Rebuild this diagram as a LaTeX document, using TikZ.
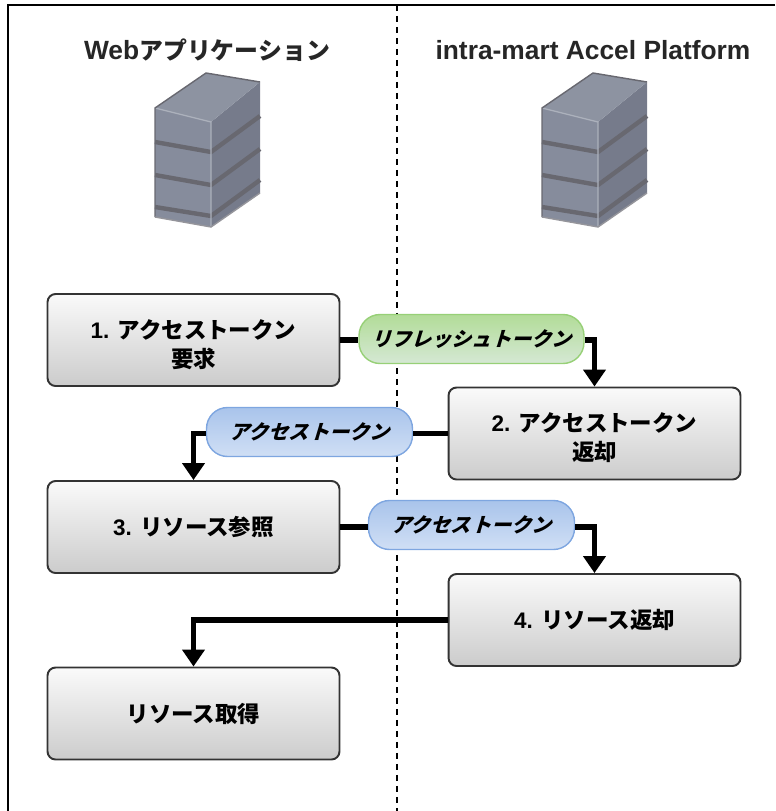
\documentclass[tikz,border=0pt]{standalone}
\usepackage{fontspec}
\setmainfont{Liberation Sans}
\newfontfamily\cjk{Noto Sans CJK JP}
\newfontfamily\cjkslant[BoldFeatures={FakeSlant=0.3}]{Noto Sans CJK JP}
\usetikzlibrary{arrows.meta}
\definecolor{srvfront}{RGB}{134,140,156}
\definecolor{srvside}{RGB}{118,123,139}
\definecolor{srvtop}{RGB}{141,147,161}
\definecolor{srvband}{RGB}{104,104,112}
\definecolor{srvedge}{RGB}{172,177,188}
\definecolor{greenline}{RGB}{151,208,119}
\definecolor{greentop}{RGB}{178,220,152}
\definecolor{greenbot}{RGB}{213,232,212}
\definecolor{blueline}{RGB}{126,166,224}
\definecolor{bluetop}{RGB}{169,196,235}
\definecolor{bluebot}{RGB}{208,223,245}
\tikzset{
	server/.pic={
		\fill[srvfront] (0,0) -- (56,14) -- (56,119) -- (0,109) -- cycle;
		\fill[srvside] (56,14) -- (105,-26) -- (105,85) -- (56,119) -- cycle;
		\fill[srvtop] (0,0) -- (51,-35) -- (105,-26) -- (56,14) -- cycle;
		\foreach \bandy/\bandz in {34/44, 67/77, 99/108}
			\draw[srvband, line width=2.5pt] (0,\bandy) -- (56,\bandz) -- (105,\bandz-36);
		\draw[srvedge, line width=0.7pt] (0,0) -- (56,14) -- (56,119);
		\draw[srvband, line width=0.8pt] (0,109) -- (0,0) -- (51,-35) -- (105,-26);
		\draw[srvband!70, line width=0.8pt] (0,109) -- (56,119) -- (105,85);
	},
	title/.style={font=\fontsize{15}{18}\selectfont\bfseries, text=black!85},
	stepbox/.style={rectangle, draw=black!80, line width=1.1pt, rounded corners=0.16cm, top color=white!98!black, bottom color=black!20, minimum width=5.84cm, minimum height=1.84cm, align=center, font=\fontsize{12.8}{16.5}\selectfont\bfseries},
	token/.style={rectangle, line width=0.8pt, rounded corners=0.42cm, minimum height=0.98cm, font=\fontsize{11.4}{14}\selectfont\bfseries\cjkslant},
	greentoken/.style={token, draw=greenline, top color=greentop, bottom color=greenbot, minimum width=4.5cm},
	bluetoken/.style={token, draw=blueline, top color=bluetop, bottom color=bluebot, minimum width=4.12cm},
	flow/.style={line width=2.9pt, -{Triangle[width=0.44cm, length=0.34cm]}},
	link/.style={line width=2.9pt}
}
\begin{document}
\begin{tikzpicture}[x=0.02cm, y=-0.02cm]
	\useasboundingbox (0,0) rectangle (775,811);
	% frame and divider
	\draw[line width=1.1pt] (8,811) -- (8,5) -- (775,5);
	\draw[line width=1.1pt, dash pattern=on 0.12cm off 0.1cm] (397,5) -- (397,811);

	\node (webtitle) [title] at (207,50) {Web{\cjk\fontsize{13.6}{18}\selectfont アプリケーション}};
	\node (imarttitle) [title] at (593,50) {intra-mart Accel Platform};
	\pic at (155,108) {server};
	\pic at (542,108) {server};

	\node (request) [stepbox] at (193.5,340) {\rule{0pt}{16pt}1. {\cjk アクセストークン}\\{\cjk 要求}};
	\node (tokenret) [stepbox] at (594.5,433.5) {\rule{0pt}{15pt}2. {\cjk アクセストークン}\\{\cjk 返却}};
	\node (refer) [stepbox] at (193.5,527) {3. {\cjk リソース参照}};
	\node (resret) [stepbox] at (594.5,620) {4. {\cjk リソース返却}};
	\node (fetch) [stepbox] at (193.5,713.5) {\cjk リソース取得};

	\node (refresh) [greentoken] at (471.5,339) {リフレッシュトークン};
	\node (access) [bluetoken] at (309.5,432) {アクセストークン};
	\node (accessb) [bluetoken] at (471.5,525) {アクセストークン};

	\draw[link] (request) -- (request -| refresh.west);
	\draw[flow] (refresh.east |- request) -| (tokenret);
	\draw[link] (tokenret) -- (tokenret -| access.east);
	\draw[flow] (access.west |- tokenret) -| (refer);
	\draw[link] (refer) -- (refer -| accessb.west);
	\draw[flow] (accessb.east |- refer) -| (resret);
	\draw[flow] (resret) -| (fetch);
\end{tikzpicture}
\end{document}
